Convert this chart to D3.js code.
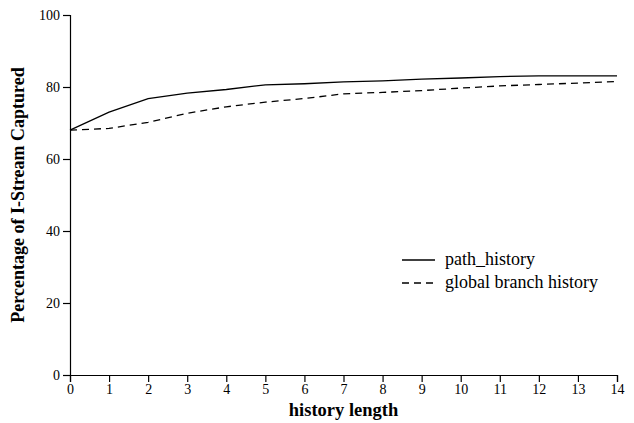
<!DOCTYPE html>
<html>
<head>
<meta charset="utf-8">
<script src="https://cdn.jsdelivr.net/npm/d3@7"></script>
<style>
  body { margin: 0; background: #fff; }
  text { font-family: "Liberation Serif", "Times New Roman", serif; fill: #000; }
</style>
</head>
<body>
<div id="chart"></div>
<script>
// history length 0..14
const historyLength = [0, 1, 2, 3, 4, 5, 6, 7, 8, 9, 10, 11, 12, 13, 14];
const pathHistory = [68.0, 73.0, 76.8, 78.3, 79.3, 80.6, 80.9, 81.4, 81.7, 82.2, 82.5, 82.9, 83.1, 83.1, 83.1];
const globalHistory = [68.0, 68.5, 70.2, 72.7, 74.5, 75.8, 76.8, 78.1, 78.5, 79.0, 79.7, 80.3, 80.7, 81.1, 81.5];
const yTicks = [0, 20, 40, 60, 80, 100];

const width = 634, height = 423;
const margin = { top: 15, right: 17, bottom: 48, left: 70 };
const innerW = width - margin.left - margin.right;
const innerH = height - margin.top - margin.bottom;

const svg = d3.select("#chart").append("svg")
  .attr("width", width)
  .attr("height", height);

const g = svg.append("g")
  .attr("transform", `translate(${margin.left},${margin.top})`);

const x = d3.scaleLinear().domain([0, 14]).range([0, innerW]);
const y = d3.scaleLinear().domain([0, 100]).range([innerH, 0]);

const xAxis = g.append("g")
  .attr("transform", `translate(0,${innerH})`)
  .call(d3.axisBottom(x).tickValues(historyLength).tickSize(7).tickPadding(2));

const yAxis = g.append("g")
  .call(d3.axisLeft(y).tickValues(yTicks).tickSize(7).tickPadding(3));

[xAxis, yAxis].forEach(a => {
  a.selectAll("path, line").attr("stroke", "#000").attr("stroke-width", 1.2);
  a.selectAll("text")
    .style("font-family", "'Liberation Serif', serif")
    .style("font-size", "14px")
    .attr("fill", "#000");
});

const line = d3.line()
  .x((d, i) => x(historyLength[i]))
  .y(d => y(d));

g.append("path")
  .datum(pathHistory)
  .attr("fill", "none")
  .attr("stroke", "#000")
  .attr("stroke-width", 1.3)
  .attr("d", line);

g.append("path")
  .datum(globalHistory)
  .attr("fill", "none")
  .attr("stroke", "#000")
  .attr("stroke-width", 1.3)
  .attr("stroke-dasharray", "7,5")
  .attr("d", line);

// legend
const legend = svg.append("g").attr("transform", "translate(402,260)");
const legendItems = [
  { label: "path_history", dash: null },
  { label: "global branch history", dash: "7,5" }
];
legendItems.forEach((item, i) => {
  const row = legend.append("g").attr("transform", `translate(0,${i * 23})`);
  row.append("line")
    .attr("x1", 0).attr("x2", 33)
    .attr("y1", 0).attr("y2", 0)
    .attr("stroke", "#000")
    .attr("stroke-width", 1.3)
    .attr("stroke-dasharray", item.dash);
  row.append("text")
    .attr("x", 43)
    .attr("y", 5)
    .style("font-size", "18px")
    .text(item.label);
});

// axis titles
svg.append("text")
  .attr("x", margin.left + innerW / 2)
  .attr("y", 416)
  .attr("text-anchor", "middle")
  .style("font-size", "18.5px")
  .style("font-weight", "bold")
  .text("history length");

svg.append("text")
  .attr("transform", `translate(24,${margin.top + innerH / 2}) rotate(-90)`)
  .attr("text-anchor", "middle")
  .style("font-size", "18px")
  .style("font-weight", "bold")
  .text("Percentage of I-Stream Captured");
</script>
</body>
</html>
